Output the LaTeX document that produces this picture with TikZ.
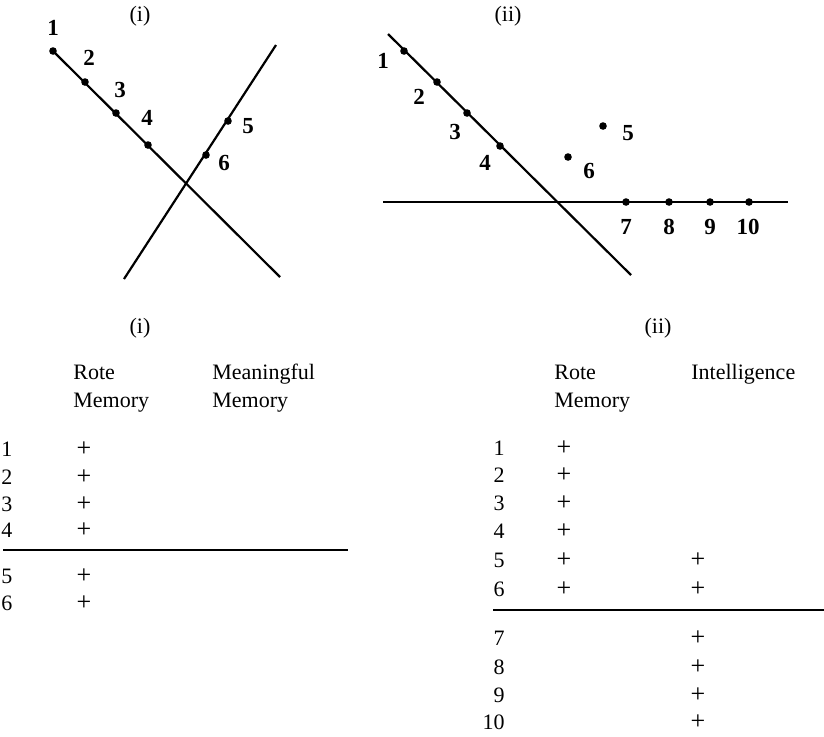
\documentclass[tikz,border=0pt]{standalone}
\usepackage{fontspec}
\setmainfont{Liberation Serif}
\begin{document}
\begin{tikzpicture}[x=0.5pt,y=-0.5pt,
  every node/.style={inner sep=0pt,font=\fontsize{11}{13}\selectfont},
  lab/.style={font=\fontsize{11.5}{13}\selectfont\bfseries},
  ln/.style={line width=1.1pt},
  pt/.style={circle,fill=black,minimum size=3.8pt,inner sep=0pt},
  hd/.style={anchor=base west},
  pl/.style={font=\fontsize{13}{14}\selectfont}]
\useasboundingbox (0,0) rectangle (824,736);
% ---------- top (i)
\node (ti) at (140,16) {(i)};
\node[pt] (a1) at (53,51) {};
\node[pt] (a2) at (85,82) {};
\node[pt] (a3) at (116,113) {};
\node[pt] (a4) at (148,145) {};
\coordinate (aend) at (280,277);
\node[pt] (a5) at (228,121) {};
\node[pt] (a6) at (206,155) {};
\coordinate (bstart) at (124,279);
\coordinate (bend) at (276,45);
\draw[ln] (a1.center) -- (aend);
\draw[ln] (bstart) -- (bend);
\node[lab] (la1) at (53,28) {1};
\node[lab] (la2) at (89,58) {2};
\node[lab] (la3) at (120,90) {3};
\node[lab] (la4) at (147,118) {4};
\node[lab] (la5) at (248,126) {5};
\node[lab] (la6) at (224,163) {6};
% ---------- top (ii)
\node (tii) at (508,16) {(ii)};
\coordinate (cstart) at (388,34);
\coordinate (cend) at (631,275);
\coordinate (hstart) at (383,202);
\coordinate (hend) at (788,202);
\draw[ln] (cstart) -- (cend);
\draw[ln] (hstart) -- (hend);
\node[pt] (c1) at (404,51) {};
\node[pt] (c2) at (437,82) {};
\node[pt] (c3) at (467,113) {};
\node[pt] (c4) at (500,146) {};
\node[pt] (c5) at (603,126) {};
\node[pt] (c6) at (568,157) {};
\node[pt] (c7) at (626,202) {};
\node[pt] (c8) at (669,202) {};
\node[pt] (c9) at (710,202) {};
\node[pt] (c10) at (749,202) {};
\node[lab] (lc1) at (383,61) {1};
\node[lab] (lc2) at (419,97) {2};
\node[lab] (lc3) at (455,132) {3};
\node[lab] (lc4) at (485,163) {4};
\node[lab] (lc5) at (628,133) {5};
\node[lab] (lc6) at (589,171) {6};
\node[lab] (lc7) at (626,227) {7};
\node[lab] (lc8) at (669,227) {8};
\node[lab] (lc9) at (710,227) {9};
\node[lab] (lc10) at (748,227) {10};
% ---------- table (i)
\node (tbi) at (140,328) {(i)};
\node[hd] (r1) at (73,379) {Rote};
\node[hd] (r2) at (73,407) {Memory};
\node[hd] (m1) at (212,379) {Meaningful};
\node[hd] (m2) at (212,407) {Memory};
\foreach \n/\y in {1/449,2/477,3/504,4/530,5/576,6/603}{
  \node (ri\n) at (7,\y) {\n};
  \node[pl] (pi\n) at (84,\y) {+};
}
\coordinate (li1) at (3,550);
\coordinate (li2) at (348,550);
\draw[ln] (li1) -- (li2);
% ---------- table (ii)
\node (tbii) at (658,328) {(ii)};
\node[hd] (s1) at (554,379) {Rote};
\node[hd] (s2) at (554,407) {Memory};
\node[hd] (g1) at (691,379) {Intelligence};
\foreach \n/\y in {1/448,2/475,3/503,4/531,5/560,6/589}{
  \node[anchor=east] (rii\n) at (505,\y) {\n};
  \node[pl] (pii\n) at (564,\y) {+};
}
\foreach \n/\y in {5/560,6/589,7/638,8/667,9/695,10/722}{
  \node[pl] (qii\n) at (698,\y) {+};
}
\foreach \n/\y in {7/638,8/667,9/695,10/722}{
  \node[anchor=east] (rii\n) at (505,\y) {\n};
}
\coordinate (lii1) at (493,610);
\coordinate (lii2) at (824,610);
\draw[ln] (lii1) -- (lii2);
\end{tikzpicture}
\end{document}
